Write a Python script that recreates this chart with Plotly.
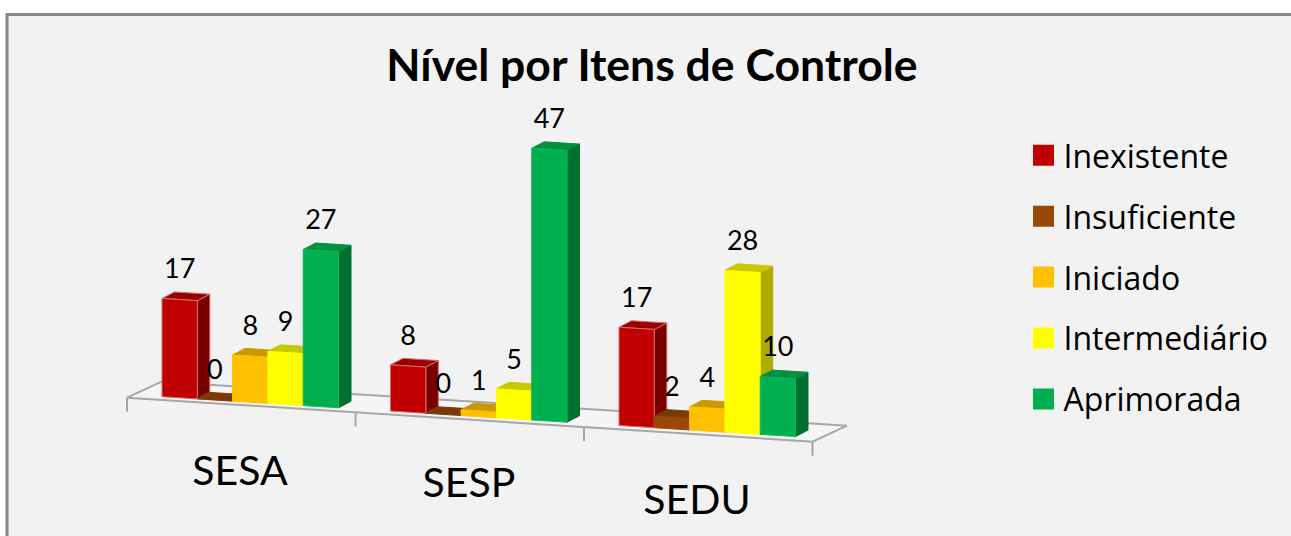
import plotly.graph_objects as go

# ---------- data ----------
categories = ["SESA", "SESP", "SEDU"]
series_names = ["Inexistente", "Insuficiente", "Iniciado", "Intermediário", "Aprimorada"]
inexistente = [17, 8, 17]
insuficiente = [0, 0, 2]
iniciado = [8, 1, 4]
intermediario = [9, 5, 28]
aprimorada = [27, 47, 10]
all_series = [inexistente, insuficiente, iniciado, intermediario, aprimorada]

# ---------- style ----------
front_colors = ["#C00000", "#984807", "#FFC000", "#FFFF00", "#00B050"]
top_colors = ["#9A0000", "#7A3A05", "#C99A00", "#C8C800", "#00903F"]
side_colors = ["#7A0000", "#5E2D04", "#A07A00", "#ABAB00", "#007030"]
edge_colors = ["#D86A6A", "#984807", "#FFC000", "#FFFF00", "#10B860"]
FONT = "Lato"
W, H = 1291, 536
PX_SLOT = 35.3          # horizontal pixels per bar
PX_VALUE = 5.78         # vertical pixels per value unit
X0_PX, Y0_PX = 162, 396.7   # pixel position of axis origin
GROUP = 228.5 / PX_SLOT     # group pitch in bar widths
SLOPE = -0.063 * PX_SLOT / PX_VALUE   # baseline fall per bar width
DX = 12.5 / PX_SLOT     # bar depth
DY = 6.5 / PX_VALUE
LABEL_LIFT = 28 / PX_VALUE


def baseline(x):
    return SLOPE * x


def poly(name, xs, ys, color, line):
    return go.Scatter(x=xs + xs[:1], y=ys + ys[:1], mode="lines", fill="toself", fillcolor=color,
                      line=dict(color=line, width=1), showlegend=False, hoverinfo="skip", name=name)


fig = go.Figure()

# floor of the 3D plot
fl_x0 = (127 - X0_PX) / PX_SLOT
fl_y0 = baseline(fl_x0) - 3.2 / PX_VALUE
fl_slope = -0.0642 * PX_SLOT / PX_VALUE
n = len(categories)
fl_x1 = fl_x0 + n * GROUP
fl_y1 = fl_y0 + fl_slope * n * GROUP
fd_x, fd_y = 34.5 / PX_SLOT, 16 / PX_VALUE
fig.add_trace(go.Scatter(
    x=[fl_x0, fl_x1, fl_x1 + fd_x, fl_x0 + fd_x, fl_x0],
    y=[fl_y0, fl_y1, fl_y1 + fd_y, fl_y0 + fd_y, fl_y0],
    mode="lines", fill="toself", fillcolor="#F5F5F5",
    line=dict(color="#A6A6A6", width=2), showlegend=False, hoverinfo="skip"))
for g in range(n + 1):
    tx = fl_x0 + g * GROUP
    ty = fl_y0 + fl_slope * g * GROUP
    fig.add_trace(go.Scatter(x=[tx, tx], y=[ty, ty - 14 / PX_VALUE], mode="lines",
                             line=dict(color="#A6A6A6", width=2), showlegend=False, hoverinfo="skip"))

# bars, drawn left to right so that nearer faces overlap
lx, ly, lt = [], [], []
for g, cat in enumerate(categories):
    for s, vals in enumerate(all_series):
        v = vals[g]
        a = g * GROUP + s
        b = a + 1
        ya, yb = baseline(a), baseline(b)
        nm = f"{cat} {series_names[s]}"
        if v > 0:
            fig.add_trace(poly(nm, [b, b + DX, b + DX, b],
                               [yb, yb + DY, yb + DY + v, yb + v], side_colors[s], edge_colors[s] if s == 0 else side_colors[s]))
        fig.add_trace(poly(nm, [a, b, b + DX, a + DX],
                           [ya + v, yb + v, yb + DY + v, ya + DY + v], top_colors[s], edge_colors[s] if s == 0 else top_colors[s]))
        if v > 0:
            fig.add_trace(poly(nm, [a, b, b, a],
                               [ya, yb, yb + v, ya + v], front_colors[s], edge_colors[s]))
        lx.append(a + 0.5)
        ly.append(baseline(a + 0.5) + v + LABEL_LIFT)
        lt.append(str(v))

# value labels
fig.add_trace(go.Scatter(x=lx, y=ly, text=lt, mode="text", textposition="middle center",
                         textfont=dict(family=FONT, size=27, color="#000000"),
                         showlegend=False, hoverinfo="skip"))

# category labels
cat_x = [(240 - X0_PX) / PX_SLOT, (469 - X0_PX) / PX_SLOT, (697 - X0_PX) / PX_SLOT]
cat_y = [(Y0_PX - 475) / PX_VALUE, (Y0_PX - 487) / PX_VALUE, (Y0_PX - 504) / PX_VALUE]
fig.add_trace(go.Scatter(x=cat_x, y=cat_y, text=categories, mode="text", textposition="middle center",
                         textfont=dict(family=FONT, size=41, color="#000000"),
                         showlegend=False, hoverinfo="skip"))

# legend entries
for s, name in enumerate(series_names):
    fig.add_trace(go.Scatter(x=[None], y=[None], mode="markers", name=name, legendgroup=name,
                             marker=dict(symbol="square", size=16, color=front_colors[s],
                                         line=dict(color=front_colors[s], width=5))))

fig.update_layout(
    width=W, height=H, margin=dict(l=0, r=0, t=0, b=0),
    paper_bgcolor="#FFFFFF", plot_bgcolor="rgba(0,0,0,0)",
    title=dict(text="<b>Nível por Itens de Controle</b>", x=652 / W, xanchor="center",
               y=1 - 65 / H, yanchor="middle", font=dict(family=FONT, size=44.5, color="#000000")),
    xaxis=dict(range=[-X0_PX / PX_SLOT, (W - X0_PX) / PX_SLOT], visible=False, fixedrange=True),
    yaxis=dict(range=[(Y0_PX - H) / PX_VALUE, Y0_PX / PX_VALUE], visible=False, fixedrange=True),
    legend=dict(x=1023.5 / W, xanchor="left", y=1 - 128 / H, yanchor="top", bgcolor="rgba(0,0,0,0)",
                font=dict(family="Open Sans", size=32, color="#000000"), tracegroupgap=16.3,
                itemsizing="trace", itemclick=False, itemdoubleclick=False),
    shapes=[dict(type="rect", xref="paper", yref="paper", layer="below",
                 x0=7 / W, x1=1.01, y0=-0.02, y1=1 - 14.5 / H,
                 fillcolor="#F2F2F2", line=dict(color="#868686", width=3))],
    showlegend=True,
)

fig.write_html("out.html", config={"displayModeBar": False},
               post_script="document.body.style.margin='0';document.body.style.overflow='hidden';")
